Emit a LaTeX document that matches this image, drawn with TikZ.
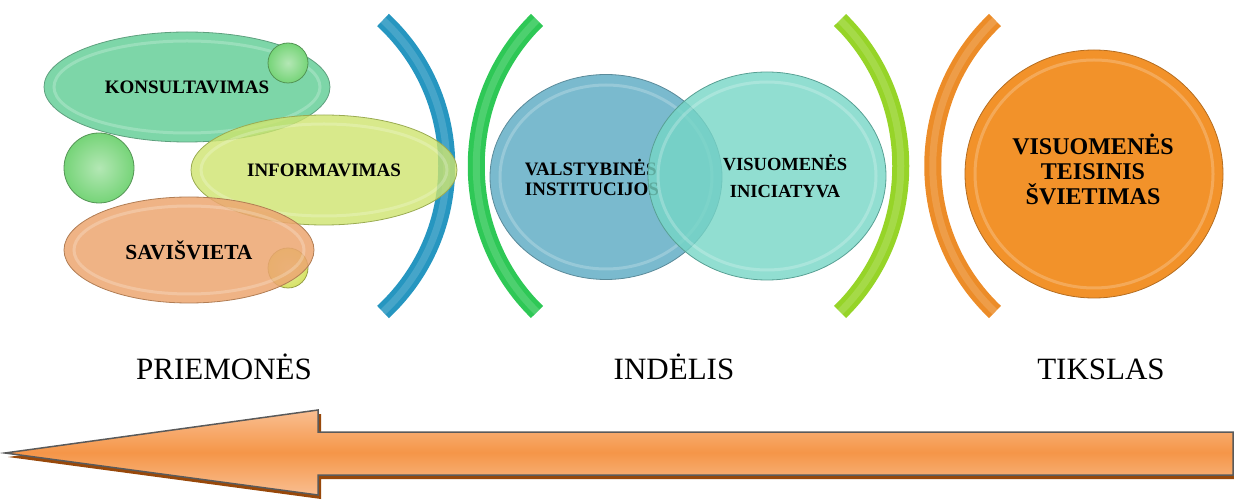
\documentclass[tikz,border=0pt]{standalone}
\usepackage{fontspec}
\setmainfont{Liberation Serif}
\usetikzlibrary{shapes.geometric}

\definecolor{konsgreen}{RGB}{125,214,168}
\definecolor{infolime}{RGB}{206,228,110}
\definecolor{saviorange}{RGB}{236,166,112}
\definecolor{dotgreen}{RGB}{118,212,120}
\definecolor{dotyellow}{RGB}{214,226,100}
\definecolor{bluebrace}{RGB}{38,150,192}
\definecolor{greenbrace}{RGB}{46,200,86}
\definecolor{limebrace}{RGB}{150,212,40}
\definecolor{orangebrace}{RGB}{236,140,40}
\definecolor{valstblue}{RGB}{122,186,206}
\definecolor{iniciateal}{RGB}{118,214,198}
\definecolor{goalorange}{RGB}{242,146,42}
\definecolor{arrowmid}{RGB}{245,150,72}
\definecolor{arrowlight}{RGB}{249,190,145}
\definecolor{arrowshadow}{RGB}{152,72,10}
\definecolor{arrowedge}{RGB}{90,90,90}

\tikzset{
  bubble/.style={ellipse, draw=#1!75!black, fill=#1, line width=.8pt, inner sep=0pt, text opacity=1},
  dot/.style={circle, draw=#1!70!black, line width=.8pt, inner color=#1!55!white, outer color=#1, inner sep=0pt},
  rim/.style={draw=white, draw opacity=.22, line width=3pt},
  brace/.style={draw=#1, line width=17pt},
  braceglow/.style={draw=white, draw opacity=.15, line width=7pt},
  axislabel/.style={font=\fontsize{31}{36}\selectfont, anchor=base},
}

\begin{document}
\begin{tikzpicture}[x=1pt,y=-1pt]
\useasboundingbox (0,0) rectangle (1234,502);

% skliaustai
\foreach \ex/\cx/\col in {383/468/bluebrace, 537/456/greenbrace, 840/921/limebrace, 995/912/orangebrace} {
  \draw[brace=\col] (\ex,20) .. controls (\cx,99) and (\cx,233) .. (\ex,312);
  \draw[braceglow] (\ex,20) .. controls (\cx,99) and (\cx,233) .. (\ex,312);
}

% priemones
\node[bubble=konsgreen, minimum width=286pt, minimum height=110pt,
      font=\bfseries\fontsize{19}{22}\selectfont] (kons) at (187,87) {KONSULTAVIMAS};
\draw[rim] (kons.center) ellipse [x radius=133, y radius=46];
\node[dot=dotgreen, minimum size=40pt] (dotA) at (288,63) {};
\node[dot=dotgreen, minimum size=70pt] (dotB) at (99,168) {};
\node[dot=dotyellow, minimum size=40pt] (dotC) at (288,268) {};
\node[bubble=infolime, fill opacity=.8, minimum width=266pt, minimum height=110pt,
      font=\bfseries\fontsize{19}{22}\selectfont] (info) at (324,170) {INFORMAVIMAS};
\draw[rim] (info.center) ellipse [x radius=123, y radius=46];
\node[bubble=saviorange, fill opacity=.85, minimum width=250pt, minimum height=106pt,
      font=\bfseries\fontsize{21.5}{24}\selectfont] (savi) at (189,250) {SAVIŠVIETA};
\draw[rim] (savi.center) ellipse [x radius=115, y radius=44];

% indelis
\node[bubble=valstblue, minimum width=232pt, minimum height=205pt] (valst) at (606,177) {};
\draw[rim] (valst.center) ellipse [x radius=106, y radius=92];
\node[font=\bfseries\fontsize{19}{20}\selectfont, align=left] (valsttext) at (592,177)
  {VALSTYBINĖS\\INSTITUCIJOS};
\node[bubble=iniciateal, fill opacity=.8, minimum width=238pt, minimum height=208pt] (inic) at (767,176) {};
\draw[rim] (inic.center) ellipse [x radius=109, y radius=94];
\node[font=\bfseries\fontsize{18.5}{27}\selectfont, align=center] (inictext) at (785,176)
  {VISUOMENĖS\\INICIATYVA};

% tikslas
\node[bubble=goalorange, minimum width=258pt, minimum height=248pt] (goal) at (1094,174) {};
\draw[rim] (goal.center) ellipse [x radius=119, y radius=114];
\node[font=\bfseries\fontsize{24}{25}\selectfont, align=center] (goaltext) at (1093,169)
  {VISUOMENĖS\\TEISINIS\\ŠVIETIMAS};

\node[axislabel] (priemones) at (224,380) {PRIEMONĖS};
\node[axislabel] (indelis) at (674,380) {INDĖLIS};
\node[axislabel] (tikslas) at (1101,380) {TIKSLAS};

% rodykle
\fill[arrowshadow, shift={(3,4)}] (5,453) -- (318,410) -- (318,432) -- (1240,432)
  -- (1240,475) -- (318,475) -- (318,495) -- cycle;
\draw[draw=arrowedge, line width=1.5pt, top color=arrowlight, bottom color=arrowlight,
      middle color=arrowmid] (5,453) -- (318,410) -- (318,432) -- (1233,432)
  -- (1233,475) -- (318,475) -- (318,495) -- cycle;
\end{tikzpicture}
\end{document}
